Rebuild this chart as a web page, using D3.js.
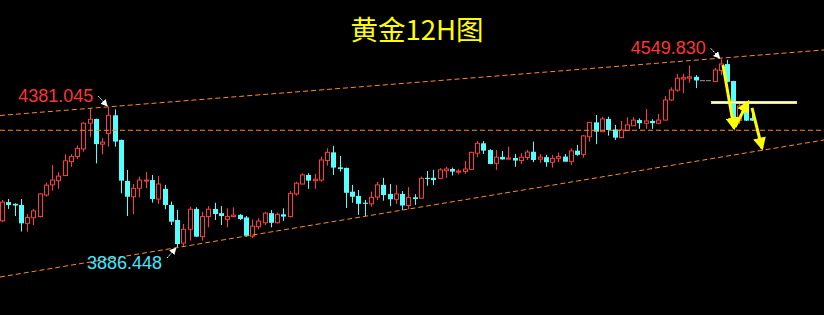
<!DOCTYPE html>
<html>
<head>
<meta charset="utf-8">
<script src="https://cdn.jsdelivr.net/npm/d3@7"></script>
<style>
  html, body { margin: 0; padding: 0; background: #000; }
  #chart { width: 824px; height: 315px; }
</style>
</head>
<body>
<div id="chart"></div>
<script>
// Gold 12H candlestick chart

// OHLC per 12H candle, oldest first
const opens = [3979, 4045, 4039, 4035, 3970, 3990, 3994, 4070, 4106, 4121, 4139, 4188, 4206, 4233, 4324, 4339, 4250, 4288, 4352, 4265,
  4120, 4064, 4094, 4120, 4123, 4056, 4092, 4035, 3982, 3900, 3949, 4021, 3923, 3994, 4021, 4006, 3984, 3994, 4000, 3991,
  3925, 3958, 3972, 4006, 3972, 4002, 3994, 4074, 4109, 4141, 4121, 4123, 4192, 4221, 4168, 4166, 4082, 4067, 4043, 4039,
  4063, 4106, 4074, 4055, 4074, 4033, 4062, 4059, 4131, 4131, 4129, 4156, 4162, 4151, 4153, 4161, 4218, 4253, 4229, 4182,
  4205, 4197, 4201, 4192, 4203, 4223, 4197, 4204, 4186, 4200, 4206, 4188, 4227, 4214, 4276, 4327, 4294, 4339, 4302, 4273,
  4298, 4315, 4335, 4324, 4332, 4324, 4335, 4406, 4441, 4480, 4483, 4488, 4476, 4476, 4471, 4510, 4533, 4473, 4334, 4371, 4342];
const highs = [4053, 4056, 4041, 4056, 4003, 4021, 4076, 4114, 4176, 4151, 4214, 4214, 4245, 4327, 4377, 4340, 4271, 4381.045, 4373, 4266,
  4159, 4109, 4135, 4151, 4141, 4137, 4106, 4047, 4017, 3968, 4029, 4027, 4011, 4031, 4043, 4031, 4023, 4027, 4003, 3996,
  3984, 3988, 4011, 4017, 4008, 4023, 4084, 4117, 4147, 4147, 4145, 4206, 4235, 4244, 4208, 4167, 4106, 4088, 4053, 4082,
  4117, 4131, 4109, 4106, 4084, 4098, 4073, 4135, 4155, 4159, 4165, 4170, 4167, 4161, 4191, 4223, 4261, 4261, 4232, 4229,
  4226, 4241, 4215, 4218, 4229, 4259, 4215, 4212, 4212, 4220, 4215, 4235, 4247, 4282, 4328, 4353, 4347, 4347, 4318, 4332,
  4345, 4345, 4341, 4374, 4338, 4357, 4420, 4451, 4498, 4498, 4528, 4494, 4476, 4476, 4519, 4549.83, 4548, 4474, 4392, 4400, 4357];
const lows = [3975, 4021, 3996, 3941, 3941, 3964, 3991, 4064, 4086, 4092, 4137, 4170, 4197, 4223, 4276, 4182, 4214, 4241, 4241, 4076,
  3996, 4003, 4062, 4094, 4043, 4039, 4020, 3964, 3886.448, 3888, 3909, 3922, 3909, 3956, 3982, 3964, 3956, 3991, 3982, 3923,
  3918, 3949, 3964, 3956, 3970, 3979, 3991, 4068, 4108, 4092, 4092, 4117, 4174, 4141, 4153, 4024, 4043, 4000, 3996, 4029,
  4053, 4050, 4031, 4039, 4017, 4020, 4035, 4056, 4103, 4106, 4127, 4131, 4139, 4143, 4145, 4159, 4204, 4215, 4179, 4159,
  4195, 4197, 4170, 4180, 4194, 4186, 4184, 4170, 4167, 4186, 4188, 4176, 4209, 4202, 4259, 4250, 4293, 4280, 4265, 4272,
  4297, 4314, 4304, 4304, 4304, 4320, 4333, 4403, 4435, 4430, 4467, 4448, 4476, 4476, 4470, 4494, 4469, 4311, 4321, 4332, 4332];
const closes = [4045, 4035, 4033, 3970, 3991, 4014, 4074, 4105, 4123, 4137, 4191, 4206, 4235, 4324, 4338, 4250, 4257, 4352, 4259, 4121,
  4064, 4094, 4123, 4123, 4056, 4109, 4035, 3976, 3897, 3949, 4020, 3923, 3994, 4020, 4003, 3996, 3994, 3999, 3985, 3926,
  3960, 3978, 4006, 3972, 4002, 3994, 4076, 4112, 4141, 4121, 4126, 4194, 4221, 4167, 4162, 4078, 4064, 4039, 4039, 4062,
  4106, 4070, 4055, 4074, 4033, 4062, 4056, 4129, 4127, 4123, 4159, 4162, 4153, 4155, 4162, 4221, 4253, 4227, 4180, 4204,
  4196, 4201, 4192, 4204, 4222, 4194, 4204, 4186, 4200, 4206, 4188, 4226, 4212, 4279, 4327, 4294, 4339, 4300, 4273, 4300,
  4318, 4335, 4324, 4332, 4324, 4335, 4406, 4441, 4483, 4485, 4488, 4475, 4476, 4476, 4512, 4533, 4470, 4314, 4385, 4333, 4333];

// Annotated extremes: candle index, price, label text
const markIndex = [17, 28, 115];
const markPrice = [4381.045, 3886.448, 4549.83];
const markLabels = ["4381.045", "3886.448", "4549.830"];

// Dashed guide lines, as [index, price] end points
const upperChannel = [[-0.32, 4351.3], [131.52, 4582.9]];
const lowerChannel = [[-0.32, 3780.4], [131.52, 4264.7]];
const supportLevel = [[-0.32, 4299.0], [131.52, 4299.0]];

// Yellow projection arrows and the resistance box
const projectionArrows = [
  [[115.36, 4529.8], [117.12, 4307.0]],
  [[117.28, 4310.7], [119.36, 4399.0]],
  [[120.0, 4377.8], [121.6, 4236.0]]
];
const boxLevel = [113.44, 127.04, 4402.8, 4395.8];

const title = "黄金12H图";

const width = 824, height = 315;

const x = d3.scaleLinear().domain([0, 120]).range([2, 752]);
const y = d3.scaleLinear().domain([3886.448, 4549.83]).range([247, 59.3]);

const RED = "#ff3c3c", CYAN = "#54ffff", GREY = "#9a9a9a", ORANGE = "#ff8a1e", YELLOW = "#ffff00";

const svg = d3.select("#chart").append("svg")
  .attr("width", width)
  .attr("height", height)
  .style("background", "#000");

const defs = svg.append("defs");
defs.append("marker")
  .attr("id", "whiteHead")
  .attr("viewBox", "0 0 10 10")
  .attr("refX", 9).attr("refY", 5)
  .attr("markerWidth", 7).attr("markerHeight", 7)
  .attr("markerUnits", "userSpaceOnUse")
  .attr("orient", "auto")
  .append("path").attr("d", "M0,0 L10,5 L0,10 Z").attr("fill", "#fff");
defs.append("marker")
  .attr("id", "yellowHead")
  .attr("viewBox", "0 0 10 10")
  .attr("refX", 8).attr("refY", 5)
  .attr("markerWidth", 13).attr("markerHeight", 13)
  .attr("markerUnits", "userSpaceOnUse")
  .attr("orient", "auto")
  .append("path").attr("d", "M0,0 L10,5 L0,10 Z").attr("fill", YELLOW);

// Build the candle table from the arrays
const candles = opens.map((o, i) => ({ i, o, h: highs[i], l: lows[i], c: closes[i] }));
const colorOf = d => d.c > d.o ? RED : d.c < d.o ? CYAN : (d.h === d.l ? GREY : RED);

const candleG = svg.append("g").attr("class", "candles");

// wicks
candleG.selectAll("line.wick")
  .data(candles.filter(d => d.h !== d.l))
  .enter().append("line")
  .attr("class", "wick")
  .attr("x1", d => Math.round(x(d.i)) + 0.5)
  .attr("x2", d => Math.round(x(d.i)) + 0.5)
  .attr("y1", d => y(d.h))
  .attr("y2", d => y(d.l))
  .attr("stroke", colorOf)
  .attr("stroke-width", 1);

// bodies: red hollow, cyan filled
candleG.selectAll("rect.body")
  .data(candles)
  .enter().append("rect")
  .attr("class", "body")
  .attr("x", d => d.c > d.o ? Math.round(x(d.i)) - 1.5 : Math.round(x(d.i)) - 2)
  .attr("width", d => d.c > d.o ? 4 : 5)
  .attr("y", d => y(Math.max(d.o, d.c)))
  .attr("height", d => Math.max(1, Math.abs(y(d.o) - y(d.c))))
  .attr("fill", d => d.c > d.o ? "#000" : colorOf(d))
  .attr("stroke", d => d.c > d.o ? RED : "none")
  .attr("stroke-width", 1);

// dashed guide lines on top of the candles
const guideLine = d3.line().x(d => x(d[0])).y(d => y(d[1]));
svg.append("g").attr("class", "guides")
  .selectAll("path")
  .data([upperChannel, supportLevel, lowerChannel])
  .enter().append("path")
  .attr("d", guideLine)
  .attr("fill", "none")
  .attr("stroke", ORANGE)
  .attr("stroke-width", 1)
  .attr("stroke-dasharray", "5,3");

// resistance box
svg.append("rect")
  .attr("x", Math.round(x(boxLevel[0])) + 0.5)
  .attr("y", Math.round(y(boxLevel[2])) + 0.5)
  .attr("width", Math.round(x(boxLevel[1]) - x(boxLevel[0])))
  .attr("height", Math.round(y(boxLevel[3]) - y(boxLevel[2])))
  .attr("fill", "#ffffff")
  .attr("stroke", "#e8e860")
  .attr("stroke-width", 1);

// yellow projection arrows
svg.append("g").attr("class", "projection")
  .selectAll("path")
  .data(projectionArrows)
  .enter().append("path")
  .attr("d", guideLine)
  .attr("fill", "none")
  .attr("stroke", YELLOW)
  .attr("stroke-width", 3)
  .attr("marker-end", "url(#yellowHead)");

// extreme labels with small dotted pointers
const marks = markIndex.map((idx, k) => ({ idx, p: markPrice[k], text: markLabels[k], low: k === 1 }));
const markG = svg.append("g").attr("class", "marks");

markG.selectAll("line")
  .data(marks)
  .enter().append("line")
  .attr("x1", d => x(d.idx) - 10)
  .attr("y1", d => d.low ? y(d.p) + 11 : y(d.p) - 11)
  .attr("x2", d => x(d.idx) - 1)
  .attr("y2", d => d.low ? y(d.p) + 1 : y(d.p) - 1)
  .attr("stroke", "#fff")
  .attr("stroke-width", 1)
  .attr("stroke-dasharray", "2,1")
  .attr("marker-end", "url(#whiteHead)");

markG.selectAll("text")
  .data(marks)
  .enter().append("text")
  .attr("x", d => d.low ? x(d.idx) - 90 : x(d.idx) - 15)
  .attr("y", d => d.low ? y(d.p) + 22 : y(d.p) - 5)
  .attr("text-anchor", d => d.low ? "start" : "end")
  .attr("font-family", "'Liberation Sans', Arial, sans-serif")
  .attr("font-size", "18px")
  .attr("fill", d => d.low ? "#40e8ff" : "#ff3434")
  .text(d => d.text);

// title
svg.append("text")
  .attr("x", 417)
  .attr("y", 40)
  .attr("text-anchor", "middle")
  .attr("font-family", "'Noto Sans CJK SC', sans-serif")
  .attr("font-size", "27.5px")
  .attr("fill", YELLOW)
  .text(title);
</script>
</body>
</html>
